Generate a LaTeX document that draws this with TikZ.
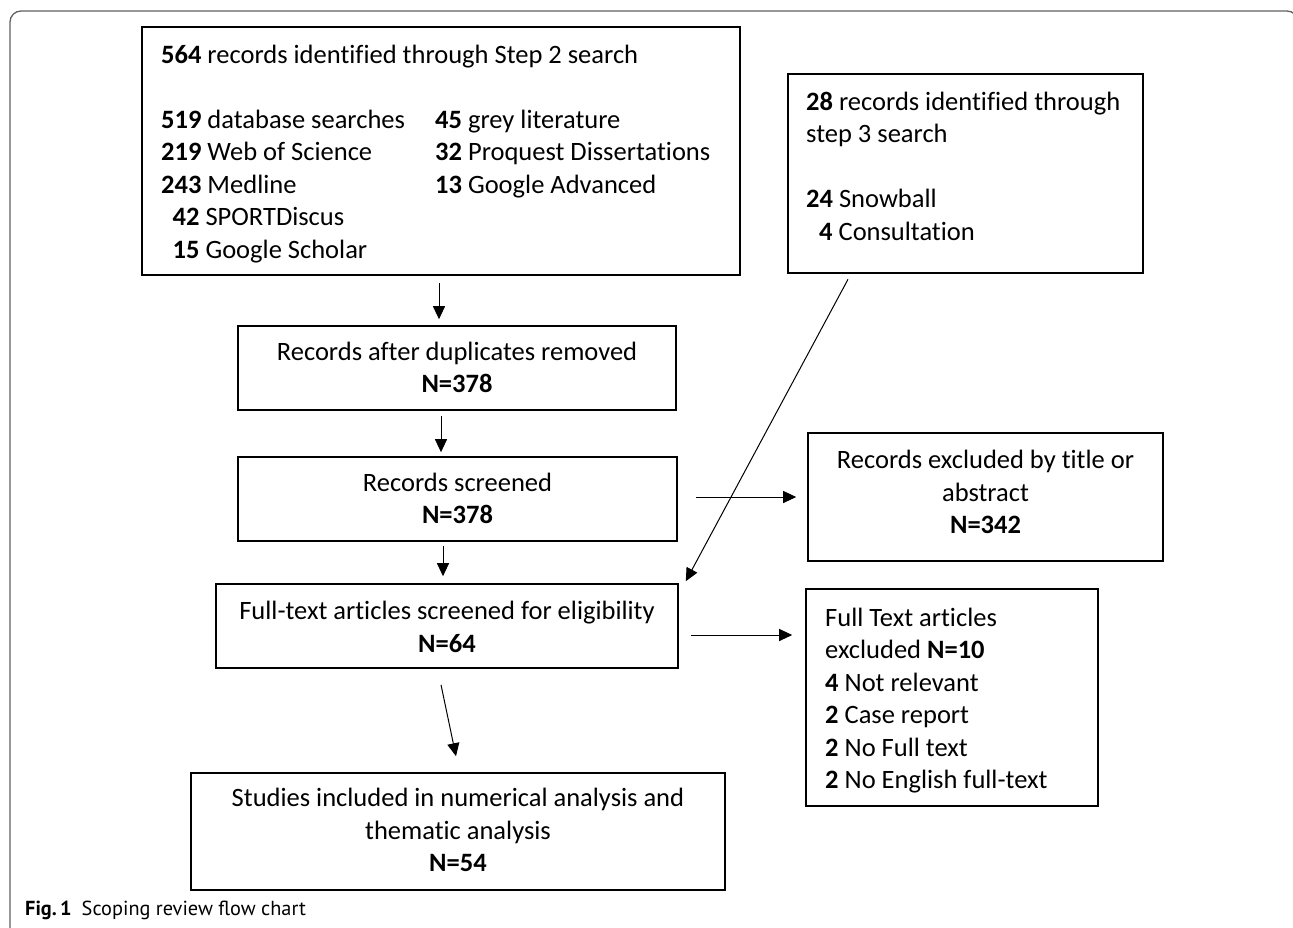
\documentclass[tikz,border=0pt]{standalone}
\usepackage{fontspec}
\setmainfont{Carlito}[Ligatures={NoCommon,NoContextual}]
\newfontfamily\capfont{PT Sans}
\usetikzlibrary{arrows.meta}
\begin{document}
\begin{tikzpicture}[x=1pt,y=-1pt,
  box/.style={draw=black,line width=1.6pt,inner sep=0pt,rectangle},
  txt/.style={inner sep=0pt,anchor=base west,font=\fontsize{26.5}{32.5}\selectfont},
  ctxt/.style={inner sep=0pt,anchor=base,font=\fontsize{26.5}{32.5}\selectfont},
  arr/.style={line width=1pt,-{Triangle[length=13pt,width=12pt]}},
  frame/.style={draw=black!62,line width=1.3pt,rounded corners=11pt}]
\useasboundingbox (0,0) rectangle (1293,927);
\draw[frame] (10,940) -- (10,11) -- (1298,11) -- (1298,940);
% boxes
\node[box,minimum width=598pt,minimum height=248pt] (b1) at (441,151) {};
\node[box,minimum width=355pt,minimum height=199pt] (b2) at (965.5,173.5) {};
\node[box,minimum width=438pt,minimum height=84pt] (b3) at (457,368) {};
\node[box,minimum width=439pt,minimum height=84pt] (b4) at (457.5,499) {};
\node[box,minimum width=355pt,minimum height=128pt] (b5) at (985.5,497) {};
\node[box,minimum width=462pt,minimum height=84pt] (b6) at (447,626) {};
\node[box,minimum width=292pt,minimum height=217pt] (b7) at (952,697.5) {};
\node[box,minimum width=534pt,minimum height=117pt] (b8) at (458,831.5) {};
% box 1 text
\node[txt] (t11) at (161,63) {\textbf{564} records identified through Step 2 search};
\node[txt] (t12) at (161,128) {\textbf{519} database searches};
\node[txt] (t13) at (161,160.5) {\textbf{219} Web of Science};
\node[txt] (t14) at (161,193) {\textbf{243} Medline};
\node[txt] (t15) at (172.5,225.5) {\textbf{42} SPORTDiscus};
\node[txt] (t16) at (172.5,258) {\textbf{15} Google Scholar};
\node[txt] (t17) at (435,128) {\textbf{45} grey literature};
\node[txt] (t18) at (435,160.5) {\textbf{32} Proquest Dissertations};
\node[txt] (t19) at (435,193) {\textbf{13} Google Advanced};
% box 2 text
\node[txt] (t21) at (806,110) {\textbf{28} records identified through};
\node[txt] (t22) at (806,142.5) {step 3 search};
\node[txt] (t23) at (806,207.5) {\textbf{24} Snowball};
\node[txt] (t24) at (819,240) {\textbf{4} Consultation};
% box 3
\node[ctxt] (t31) at (457,360) {Records after duplicates removed};
\node[ctxt] (t32) at (457,392.5) {\textbf{N=378}};
% box 4
\node[ctxt] (t41) at (457.5,491) {Records screened};
\node[ctxt] (t42) at (457.5,523.5) {\textbf{N=378}};
% box 5
\node[ctxt] (t51) at (985.5,468.5) {Records excluded by title or};
\node[ctxt] (t52) at (985.5,501) {abstract};
\node[ctxt] (t53) at (985.5,533.5) {\textbf{N=342}};
% box 6
\node[ctxt] (t61) at (447,619.5) {Full-text articles screened for eligibility};
\node[ctxt] (t62) at (447,652) {\textbf{N=64}};
% box 7
\node[txt] (t71) at (825,626) {Full Text articles};
\node[txt] (t72) at (825,658.5) {excluded \textbf{N=10}};
\node[txt] (t73) at (825,691) {\textbf{4} Not relevant};
\node[txt] (t74) at (825,723.5) {\textbf{2} Case report};
\node[txt] (t75) at (825,756) {\textbf{2} No Full text};
\node[txt] (t76) at (825,788.5) {\textbf{2} No English full-text};
% box 8
\node[ctxt] (t81) at (458,806.5) {Studies included in numerical analysis and};
\node[ctxt] (t82) at (458,839) {thematic analysis};
\node[ctxt] (t83) at (458,871.5) {\textbf{N=54}};
% arrows
\draw[arr] ([shift={(-2,7)}]b1.south) -- ([shift={(-18,-6)}]b3.north);
\draw[arr] ([shift={(-16,5)}]b3.south) -- ([shift={(-16.5,-4)}]b4.north);
\draw[arr] ([shift={(-14.5,4)}]b4.south) -- ([shift={(-4,-7)}]b6.north);
\draw[arr] ([shift={(18,-2)}]b4.east) -- ([shift={(-11,0)}]b5.west);
\draw[arr] ([shift={(-117.5,5.5)}]b2.south) -- ([shift={(7,-2)}]b6.north east);
\draw[arr] ([shift={(12,9)}]b6.east) -- ([shift={(-13,-62.5)}]b7.west);
\draw[arr] ([shift={(-6,16)}]b6.south) -- ([shift={(-2,-16)}]b8.north);
% caption
\node[inner sep=0pt,anchor=base west,font=\capfont\fontsize{20.3}{22}\selectfont] (cap) at (25,915) {\textbf{Fig.\,1}\hspace{10pt}Scoping review flow chart};
\end{tikzpicture}
\end{document}
